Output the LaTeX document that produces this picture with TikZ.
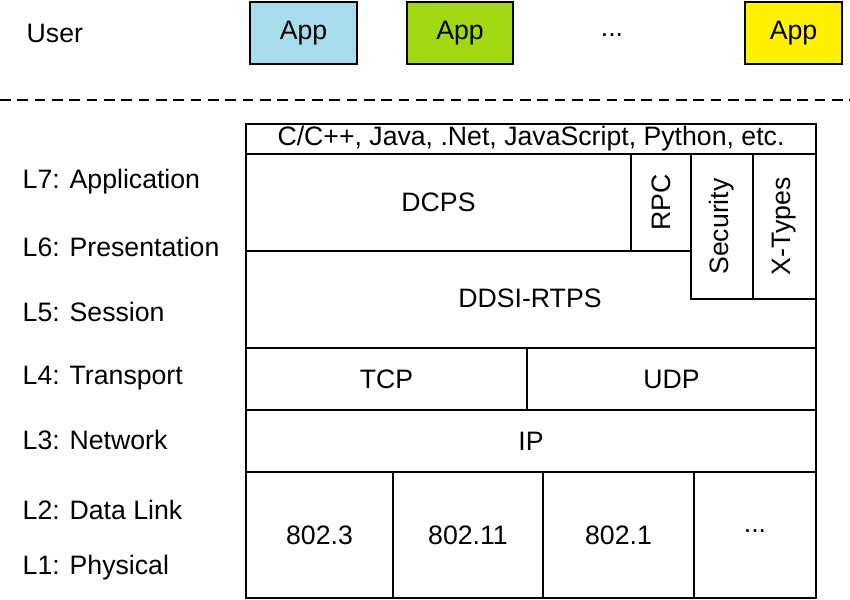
\documentclass[tikz,border=0pt]{standalone}
\usepackage{fontspec}
\setmainfont{Liberation Sans}
\begin{document}
\begin{tikzpicture}[x=0.75pt,y=-0.75pt,
  lbl/.style={font=\fontsize{20}{24}\selectfont},
  bx/.style={draw,line width=1pt},
  lay/.style={anchor=west,font=\fontsize{20}{24}\selectfont}]
\useasboundingbox (0,0) rectangle (850,600);
\definecolor{appblue}{HTML}{A6DCEB}
\definecolor{appgreen}{HTML}{A0D911}
\definecolor{appyellow}{HTML}{FFF200}
\node[lay] (user) at (22,33) {User};
\filldraw[bx,fill=appblue] (250,2) rectangle (357,64) node[midway,lbl] (app1) {App};
\filldraw[bx,fill=appgreen] (407,2) rectangle (513,64) node[midway,lbl] (app2) {App};
\node[lbl] (dots) at (612,35) {...};
\filldraw[bx,fill=appyellow] (745,2) rectangle (842,64) node[midway,lbl] (app3) {App};
\draw[dashed,line width=1pt,dash pattern=on 8pt off 5pt] (0,100) -- (850,100);
\draw[bx] (246,124) rectangle (816,154) node[midway,lbl,font=\fontsize{20}{24}\selectfont] (lang) {C/C++, Java, .Net, JavaScript, Python, etc.};
\draw[bx] (246,154) rectangle (631,251) node[midway,lbl] (dcps) {DCPS};
\draw[bx] (631,154) rectangle (691,251) node[midway,lbl,rotate=90] (rpc) {RPC};
\draw[bx] (691,154) rectangle (753,299) node[midway,lbl,rotate=90] (sec) {Security};
\draw[bx] (753,154) rectangle (816,299) node[midway,lbl,rotate=90] (xt) {X-Types};
\draw[bx] (246,251) -- (691,251) -- (691,299) -- (816,299) -- (816,348) -- (246,348) -- cycle;
\node[lbl] (rtps) at (530,298) {DDSI-RTPS};
\draw[bx] (246,348) rectangle (527,410) node[midway,lbl] (tcp) {TCP};
\draw[bx] (527,348) rectangle (816,410) node[midway,lbl] (udp) {UDP};
\draw[bx] (246,410) rectangle (816,472) node[midway,lbl] (ip) {IP};
\draw[bx] (246,472) rectangle (393,598) node[midway,lbl] (e1) {802.3};
\draw[bx] (393,472) rectangle (543,598) node[midway,lbl] (e2) {802.11};
\draw[bx] (543,472) rectangle (694,598) node[midway,lbl] (e3) {802.1};
\draw[bx] (694,472) rectangle (816,598) node[midway,lbl,yshift=3pt] (e4) {...};
\node[lay] (l7) at (18,182) {L7: Application};
\node[lay] (l6) at (18,247) {L6: Presentation};
\node[lay] (l5) at (18,312) {L5: Session};
\node[lay] (l4) at (18,378) {L4: Transport};
\node[lay] (l3) at (18,440) {L3: Network};
\node[lay] (l2) at (18,510) {L2: Data Link};
\node[lay] (l1) at (18,568) {L1: Physical};
\end{tikzpicture}
\end{document}
